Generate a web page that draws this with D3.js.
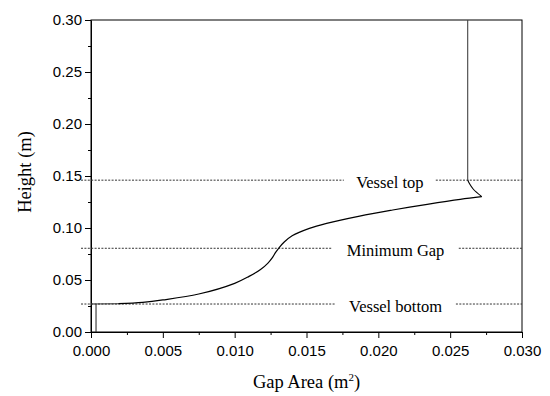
<!DOCTYPE html>
<html>
<head>
<meta charset="utf-8">
<script src="https://cdn.jsdelivr.net/npm/d3@7"></script>
<style>
  body { margin: 0; background: #fff; }
  svg { display: block; }
</style>
</head>
<body>
<div id="chart"></div>
<script>
// gap area (m^2) vs height (m)
// bottom step (straight pieces)
const baseGap = [0.00035, 0.00035, 0.0, 0.0019];
const baseHeight = [0.0, 0.0269, 0.0269, 0.0272];
// smooth part of the profile
const gapArea = [0.0019, 0.0036, 0.005, 0.0075, 0.010, 0.011, 0.0118, 0.0123, 0.0126,
  0.01285, 0.0131, 0.01345, 0.0140, 0.0152, 0.0164, 0.0187, 0.0210, 0.0234, 0.0257, 0.0272];
const height = [0.0272, 0.0285, 0.0308, 0.0365, 0.0468, 0.0535, 0.0600, 0.0660, 0.0710,
  0.0765, 0.0812, 0.0865, 0.0925, 0.0997, 0.1045, 0.1115, 0.1173, 0.1228, 0.1276, 0.1301];
// top bend
const bendGap = [0.0272, 0.0266, 0.02635, 0.02622];
const bendHeight = [0.1301, 0.1375, 0.1425, 0.1462];
// vertical wall above the vessel
const wallGap = [0.02622, 0.02622];
const wallHeight = [0.1462, 0.30];

const refNames = ["Vessel top", "Minimum Gap", "Vessel bottom"];
const refHeights = [0.146, 0.0805, 0.0269];
const refLabelX = [0.0208, 0.0212, 0.0212];   // label centre, in gap-area units
const refLabelHalf = [0.0032, 0.0044, 0.0042]; // half width of the gap in the dashed line

const xTicks = [0, 0.005, 0.010, 0.015, 0.020, 0.025, 0.030];
const yTicks = [0, 0.05, 0.10, 0.15, 0.20, 0.25, 0.30];

const width = 550, height_ = 396;
const margin = { top: 20, right: 28, bottom: 64, left: 91 };

const svg = d3.select("#chart").append("svg")
  .attr("width", width)
  .attr("height", height_);

const x = d3.scaleLinear().domain([0, 0.03]).range([margin.left, width - margin.right]);
const y = d3.scaleLinear().domain([0, 0.30]).range([height_ - margin.bottom, margin.top]);

// frame
svg.append("rect")
  .attr("x", x(0)).attr("y", y(0.30))
  .attr("width", x(0.03) - x(0)).attr("height", y(0) - y(0.30))
  .attr("fill", "none").attr("stroke", "#000").attr("stroke-width", 1);

// minor ticks
svg.append("g")
  .attr("transform", `translate(0,${y(0)})`)
  .call(d3.axisBottom(x).tickValues(d3.range(0.0025, 0.03, 0.005)).tickSize(3).tickFormat(""))
  .call(g => g.select(".domain").remove());
svg.append("g")
  .attr("transform", `translate(${x(0)},0)`)
  .call(d3.axisLeft(y).tickValues(d3.range(0.025, 0.3, 0.05)).tickSize(3).tickFormat(""))
  .call(g => g.select(".domain").remove());

const xAxis = svg.append("g")
  .attr("transform", `translate(0,${y(0)})`)
  .call(d3.axisBottom(x).tickValues(xTicks).tickSize(6).tickSizeOuter(0).tickFormat(d3.format(".3f")));
const yAxis = svg.append("g")
  .attr("transform", `translate(${x(0)},0)`)
  .call(d3.axisLeft(y).tickValues(yTicks).tickSize(6).tickSizeOuter(0).tickFormat(d3.format(".2f")));

[xAxis, yAxis].forEach(a => {
  a.selectAll("text").attr("font-family", "Liberation Sans, Arial, sans-serif")
    .attr("font-size", 15).attr("fill", "#000");
  a.selectAll("line").attr("stroke", "#000");
  a.select(".domain").attr("stroke", "#000");
});
xAxis.selectAll("text").attr("dy", "1.0em");
yAxis.selectAll("text").attr("x", -9);

// dashed reference lines with labels
refHeights.forEach((h, i) => {
  const yy = y(h);
  const segs = [[x(0) - 10, x(refLabelX[i] - refLabelHalf[i])], [x(refLabelX[i] + refLabelHalf[i]), x(0.03)]];
  segs.forEach(s => {
    svg.append("line")
      .attr("x1", s[0]).attr("x2", s[1]).attr("y1", yy).attr("y2", yy)
      .attr("stroke", "#333").attr("stroke-width", 1).attr("stroke-dasharray", "2,1.4");
  });
  svg.append("text")
    .attr("x", x(refLabelX[i])).attr("y", yy + 7.5)
    .attr("text-anchor", "middle")
    .attr("font-family", "Liberation Serif, Times New Roman, serif")
    .attr("font-size", 16.5)
    .text(refNames[i]);
});

// curve
const line = d3.line().x(d => x(d[0])).y(d => y(d[1]));
const curve = d3.line().x(d => x(d[0])).y(d => y(d[1])).curve(d3.curveCatmullRom.alpha(0.5));
const toPts = (gs, hs) => gs.map((g, i) => [g, hs[i]]);

svg.append("path").datum(toPts(baseGap, baseHeight))
  .attr("fill", "none").attr("stroke", "#333").attr("stroke-width", 1.1).attr("d", line);
svg.append("path").datum(toPts(gapArea, height))
  .attr("fill", "none").attr("stroke", "#000").attr("stroke-width", 1.2).attr("d", curve);
svg.append("path").datum(toPts(bendGap, bendHeight))
  .attr("fill", "none").attr("stroke", "#000").attr("stroke-width", 1.1).attr("d", curve);
svg.append("path").datum(toPts(wallGap, wallHeight))
  .attr("fill", "none").attr("stroke", "#444").attr("stroke-width", 1.1).attr("d", line);

// axis titles
svg.append("text")
  .attr("transform", `translate(31,${(y(0) + y(0.3)) / 2 - 4}) rotate(-90)`)
  .attr("text-anchor", "middle")
  .attr("font-family", "Liberation Serif, Times New Roman, serif")
  .attr("font-size", 18.5)
  .text("Height (m)");

const xt = svg.append("text")
  .attr("x", (x(0) + x(0.03)) / 2).attr("y", 388)
  .attr("text-anchor", "middle")
  .attr("font-family", "Liberation Serif, Times New Roman, serif")
  .attr("font-size", 18.5);
xt.append("tspan").text("Gap Area (m");
xt.append("tspan").attr("font-size", 11).attr("dy", -7).text("2");
xt.append("tspan").attr("dy", 7).text(")");
</script>
</body>
</html>
